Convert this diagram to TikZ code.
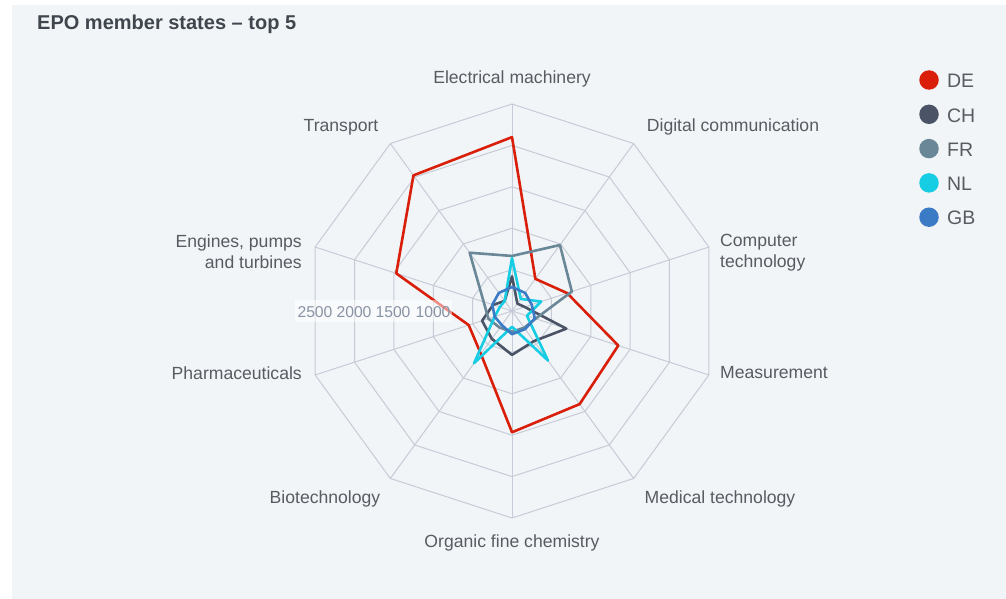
\documentclass[tikz,border=0pt]{standalone}
\usepackage{fontspec}
\setmainfont{Liberation Sans}
\usetikzlibrary{positioning}
\definecolor{panel}{HTML}{F2F5F7}
\definecolor{gridcol}{HTML}{C6CBD7}
\definecolor{txt}{HTML}{575C63}
\definecolor{titletxt}{HTML}{40464E}
\definecolor{ticktxt}{HTML}{8A93A5}
\definecolor{DE}{HTML}{D91E0A}
\definecolor{CH}{HTML}{4A5466}
\definecolor{FR}{HTML}{6A8797}
\definecolor{NL}{HTML}{17CDE3}
\definecolor{GB}{HTML}{3B7BC6}

\begin{document}
\begin{tikzpicture}[x=1pt,y=-1pt]
  \tikzset{grid/.style={draw=gridcol, line width=1pt},
    series/.style={line width=2.6pt, line join=round},
    axlabel/.style={inner sep=0pt, text=txt, font=\fontsize{17.6}{21}\selectfont},
    ticklab/.style={inner sep=0pt, text=ticktxt, font=\fontsize{15.7}{18}\selectfont},
    dot/.style={circle, inner sep=0pt, minimum size=19.5pt},
    leglab/.style={inner sep=0pt, text=txt, font=\fontsize{19.5}{22}\selectfont}}
  \useasboundingbox (0,0) rectangle (1006,599);
  \fill[white] (0,0) rectangle (1006,599);
  \fill[panel] (12,5) rectangle (1006,599);
  \node[anchor=west, inner sep=0pt, text=titletxt, font=\fontsize{20}{24}\selectfont\bfseries]
    (title) at (37,24) {EPO member states – top 5};

  % web and series, in data units
  \begin{scope}[shift={(512,311)}, yscale=-1, scale=0.0828]
    \foreach \r in {500,1000,...,2500}
      \draw[grid] (90:\r) \foreach \k in {1,...,9} {-- ({90-36*\k}:\r)} -- cycle;
    \foreach \k in {0,...,9}
      \draw[grid] (0,0) -- ({90-36*\k}:2500);
    \foreach \s/\vals in {DE/{2100,480,700,1350,1390,1465,640,550,1470,2025},
        CH/{420,110,160,690,450,530,415,380,240,150},
        FR/{665,985,760,300,250,250,250,300,360,870},
        NL/{640,180,370,190,740,190,780,220,155,150},
        GB/{290,270,250,290,270,280,210,220,250,270}} {
      \foreach \v [count=\k from 0] in \vals
        \coordinate (\s\k) at ({90-36*\k}:\v);
      \draw[series, draw=\s] (\s0) \foreach \k in {1,...,9} {-- (\s\k)} -- cycle;
    }
  \end{scope}

  % value labels
  \fill[white, fill opacity=0.5] (295,300) rectangle (452,322);
  \foreach \t/\x in {2500/315,2000/354,1500/393,1000/433}
    \node[ticklab] (t\t) at (\x,312) {\t};

  % axis labels
  \node[axlabel] (elec) at (512,79) {Electrical machinery};
  \node[axlabel] (digi) at (733,127) {Digital communication};
  \node[axlabel, anchor=west, align=left] (comp) at (720,253) {Computer\\technology};
  \node[axlabel, anchor=west] (meas) at (720,373) {Measurement};
  \node[axlabel] (medi) at (720,499) {Medical technology};
  \node[axlabel] (orga) at (512,543) {Organic fine chemistry};
  \node[axlabel] (biot) at (325,499) {Biotechnology};
  \node[axlabel, anchor=east] (phar) at (302,373) {Pharmaceuticals};
  \node[axlabel, anchor=east, align=right] (engi) at (302,252) {Engines, pumps\\and turbines};
  \node[axlabel] (tran) at (341,127) {Transport};

  % legend
  \foreach \s [count=\i from 0] in {DE,CH,FR,NL,GB} {
    \node[dot, fill=\s] (dot\s) at (929,{80+34.3*\i}) {};
    \node[leglab, right=8pt of dot\s, yshift=-1pt] (leg\s) {\s};
  }
\end{tikzpicture}
\end{document}
